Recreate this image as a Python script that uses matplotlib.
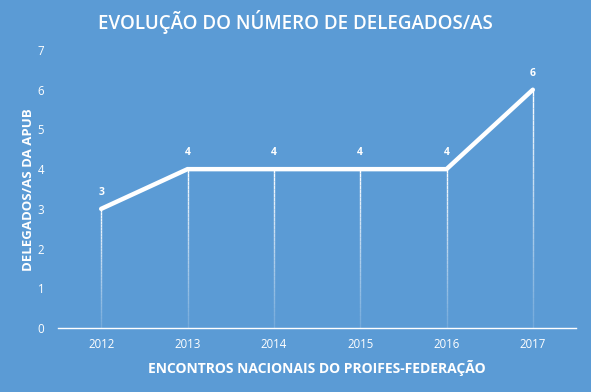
import matplotlib
matplotlib.use("Agg")
import matplotlib.pyplot as plt
import numpy as np
from matplotlib.collections import LineCollection

years = ["2012", "2013", "2014", "2015", "2016", "2017"]
delegados = [3, 4, 4, 4, 4, 6]

bg = "#5B9BD5"
plt.rcParams['font.family'] = ['Open Sans', 'DejaVu Sans']

fig = plt.figure(figsize=(5.91, 3.92), dpi=100, facecolor=bg)
ax = fig.add_axes([58/591, 1-328/392, (576-58)/591, (328-50)/392])
ax.set_facecolor(bg)

x = np.arange(len(years))
# drop lines with fading gradient
for xi, yi in zip(x, delegados):
    n = 40
    ys = np.linspace(0, yi, n + 1)
    segs = [[(xi, ys[k]), (xi, ys[k + 1])] for k in range(n)]
    alphas = np.linspace(0.15, 1.0, n)
    cols = [(1, 1, 1, a) for a in alphas]
    ax.add_collection(LineCollection(segs, colors=cols, linewidths=1.0, zorder=2))

ax.plot(x, delegados, color="white", lw=3.2, solid_capstyle="round", solid_joinstyle="miter", zorder=3)
for xi, yi in zip(x, delegados):
    ax.annotate(str(yi), (xi, yi), xytext=(0, 8), textcoords="offset points",
                ha="center", va="bottom", color="white", fontsize=7.5, fontweight="bold")

ax.set_xlim(-0.5, len(years) - 0.5)
ax.set_ylim(0, 7)
ax.set_xticks(x)
ax.set_xticklabels(years)
ax.set_yticks(range(0, 8))
ax.tick_params(colors="white", labelsize=8.3, length=0)
ax.tick_params(axis="y", pad=10)
ax.tick_params(axis="x", pad=7)
for s in ["top", "right", "left"]:
    ax.spines[s].set_visible(False)
ax.spines["bottom"].set_color("white")
ax.spines["bottom"].set_linewidth(1.0)

ax.set_xlabel("ENCONTROS NACIONAIS DO PROIFES-FEDERAÇÃO", color="white",
              fontsize=10, fontweight="bold", labelpad=7)
ax.set_ylabel("DELEGADOS/AS DA APUB", color="white", fontsize=9.5,
              fontweight="bold")
ax.yaxis.set_label_coords(-(58 - 35)/518, (328-190)/278, transform=ax.transAxes)

fig.text(0.5, 1 - 22/392, "EVOLUÇÃO DO NÚMERO DE DELEGADOS/AS", color="white",
         fontsize=13.5, fontweight="semibold", ha="center", va="center")

fig.savefig("out.png", dpi=100, facecolor=bg)
